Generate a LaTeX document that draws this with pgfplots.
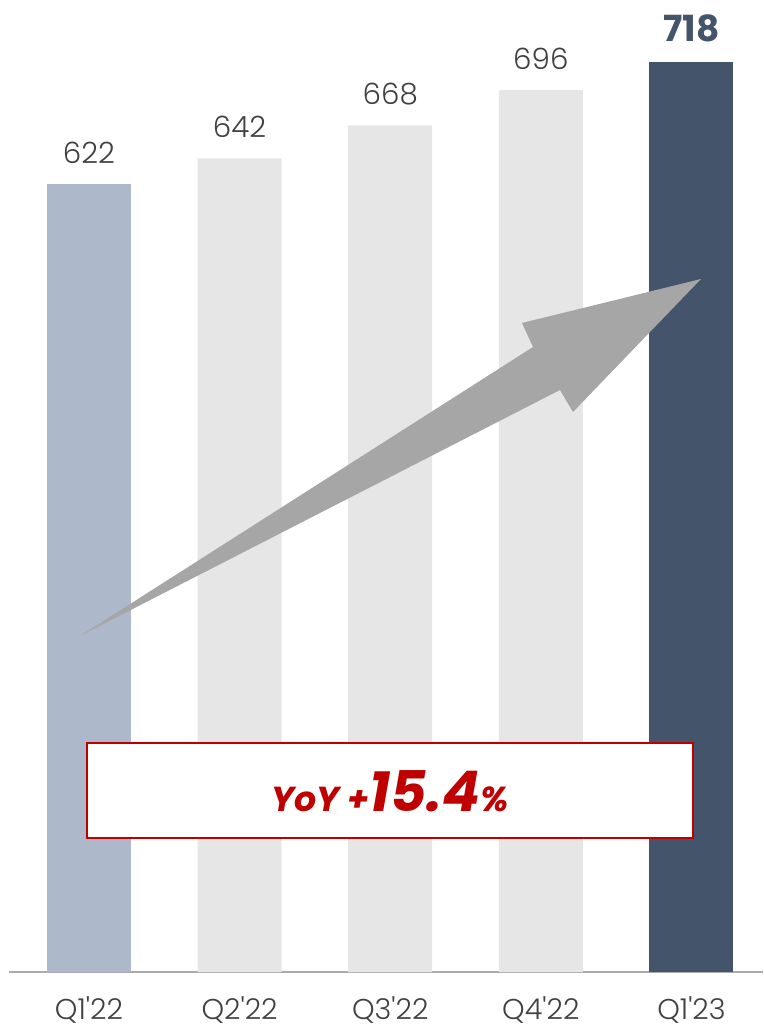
\documentclass[border=0pt]{standalone}
\usepackage{fontspec}
\setmainfont{Poppins}[UprightFont=* Light, BoldFont=* Bold, ItalicFont=* Light Italic, BoldItalicFont=* Bold Italic]
\usepackage{pgfplots}
\pgfplotsset{compat=1.18}
\definecolor{barA}{HTML}{ADB9CA}
\definecolor{barB}{HTML}{E6E6E6}
\definecolor{barC}{HTML}{44546A}
\definecolor{lab}{HTML}{404040}
\definecolor{arr}{HTML}{A6A6A6}
\definecolor{red}{HTML}{C00000}
\definecolor{axl}{HTML}{ABABAB}
\begin{document}
\begin{tikzpicture}[x=0.75pt,y=0.75pt]
\path[use as bounding box] (0,0) rectangle (763,1030);
\begin{axis}[
  at={(6.75pt,43.5pt)}, anchor=south west,
  scale only axis, width=565.5pt, height=729pt,
  xmin=-0.531, xmax=4.475, ymin=0, ymax=766.9,
  axis x line=bottom, axis y line=none,
  x axis line style={draw=axl, line width=1.5pt, -},
  xtick={0,1,2,3,4},
  xticklabels={Q1\textquotesingle22,Q2\textquotesingle22,Q3\textquotesingle22,Q4\textquotesingle22,Q1\textquotesingle23},
  major tick length=0pt,
  xticklabel style={inner sep=0pt, anchor=north, yshift=-18pt, font=\fontsize{21.5}{21.5}\selectfont, text=lab},
  ytick=\empty,
  /pgf/number format/assume math mode=true,
  ybar, bar width=0.558, bar shift=0pt,
  nodes near coords,
  every node near coord/.append style={inner sep=0pt, anchor=south, yshift=15pt, font=\fontsize{22}{22}\selectfont, text=lab},
  clip=false,
]
\addplot[draw=none, fill=barA] coordinates {(0,622)};
\addplot[draw=none, fill=barB] coordinates {(1,642) (2,668) (3,696)};
\addplot[draw=none, fill=barC, every node near coord/.append style={font=\fontsize{27}{27}\selectfont\bfseries, text=barC}] coordinates {(4,718)};
\end{axis}
% arrow (pixel coordinates, y flipped)
\fill[arr] (80,{1030-636}) -- (533,{1030-347}) -- (522,{1030-323}) -- (701,{1030-279}) -- (573,{1030-412}) -- (560,{1030-390}) -- cycle;
% box
\draw[red, line width=1.5pt, fill=white] (87,{1030-743}) rectangle (693,{1030-838});
\node[text=red, inner sep=0pt, anchor=base] at (390,{1030-812}) {\bfseries\itshape{\fontsize{26}{26}\selectfont YoY +}{\fontsize{42}{42}\selectfont 15.4}{\fontsize{26}{26}\selectfont\%}};
\end{tikzpicture}
\end{document}
